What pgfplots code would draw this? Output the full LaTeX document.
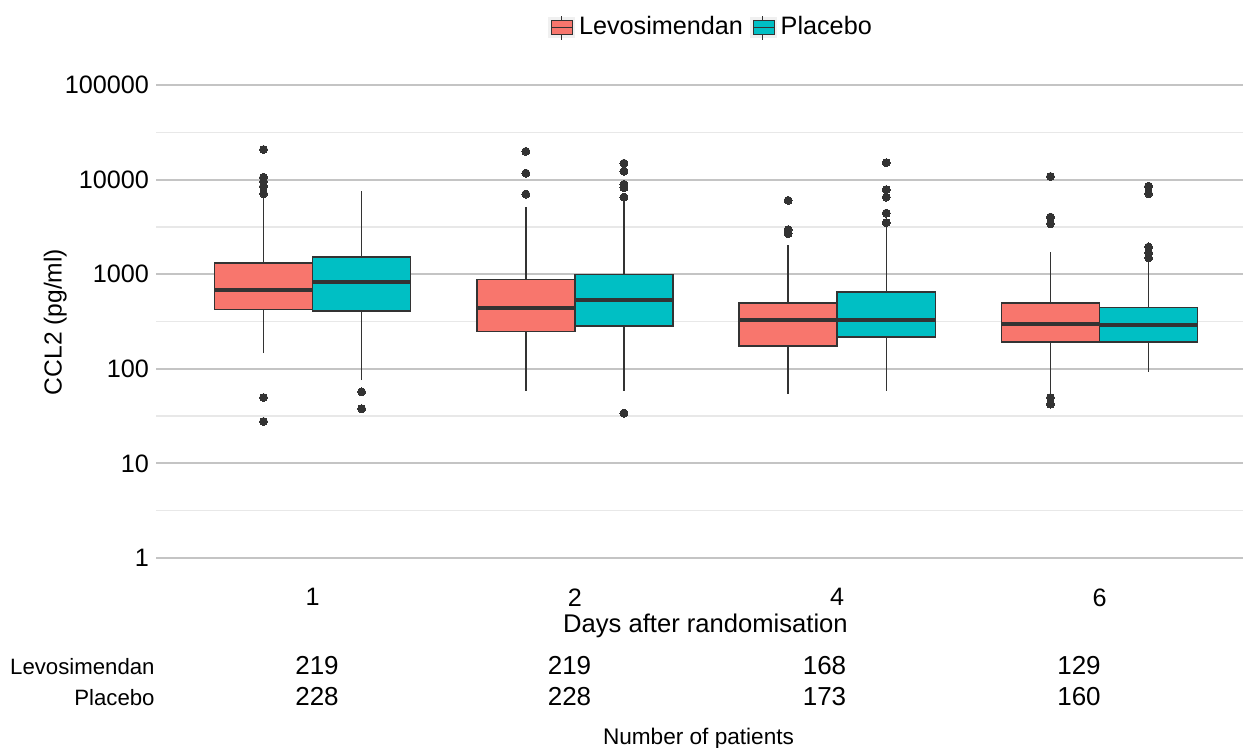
\documentclass[border=0pt]{standalone}
\usepackage{fontspec}
\setmainfont{Liberation Sans}
\usepackage{pgfplots}
\pgfplotsset{compat=1.18}
\definecolor{levo}{HTML}{F8766D}
\definecolor{plac}{HTML}{00BFC4}
\definecolor{dk}{HTML}{333333}
\definecolor{gmaj}{HTML}{C4C4C4}
\definecolor{gmin}{HTML}{E8E8E8}
\newcommand{\fs}[1]{\fontsize{#1}{#1}\selectfont}
% #1 left x, #2 center x, #3 right x, #4 colour, #5 lower whisker, #6 Q1, #7 median, #8 Q3, #9 upper whisker
\newcommand{\bxp}[9]{%
  \addplot[dk, line width=0.75pt, forget plot] coordinates {(#2,#5) (#2,#6)};
  \addplot[dk, line width=0.75pt, forget plot] coordinates {(#2,#8) (#2,#9)};
  \addplot[fill=#4, draw=dk, line width=0.75pt, forget plot] coordinates {(#1,#6) (#3,#6) (#3,#8) (#1,#8)} -- cycle;
  \addplot[dk, line width=2pt, forget plot] coordinates {(#1,#7) (#3,#7)};
}
\pgfplotsset{outl/.style={only marks, mark=*, mark size=2pt, mark options={fill=dk, draw=dk, line width=0pt}, forget plot}}
\begin{document}
\begin{tikzpicture}
\useasboundingbox (0,0) rectangle (621.5pt,374pt);
\begin{axis}[
  at={(78pt,83.2pt)}, anchor=south west,
  scale only axis, width=543.5pt, height=260.1pt,
  xmin=0.403, xmax=4.547,
  ymode=log, ymin=0.5623, ymax=177828,
  ytick={1,10,100,1000,10000,100000},
  yticklabels={1,10,100,1000,10000,100000},
  minor ytick={3.1623,31.623,316.23,3162.3,31623},
  xtick={1,2,3,4}, xticklabels={1,2,4,6},
  ymajorgrids, yminorgrids, xmajorgrids=false,
  major grid style={color=gmaj, line width=1pt},
  minor grid style={color=gmin, line width=0.8pt},
  axis line style={draw=none},
  major tick length=0pt, minor tick length=0pt,
  tick style={draw=none},
  /pgf/number format/assume math mode=true,
  ticklabel style={font=\fs{12.6}},
  xlabel={Days after randomisation},
  xlabel style={at={(axis description cs:0.5055,-0.0975)}, anchor=base, font=\fs{12.8}, inner sep=0pt},
  ylabel={CCL2 (pg/ml)},
  ylabel style={at={(axis description cs:-0.0868,0.499)}, anchor=base, font=\fs{12.3}, inner sep=0pt},
  legend style={at={(axis description cs:0.5115,1.066)}, anchor=center, draw=none, fill=none,
    font=\fs{12.6}, legend columns=2,
    /tikz/every even column/.append style={column sep=1.5pt}},
  legend cell align=left,
]
\addlegendimage{legend image code/.code={
  \fill[black!6] (0pt,-5pt) rectangle (13pt,5pt);
  \draw[dk, line width=0.5pt] (6.2pt,-6.3pt) -- (6.2pt,5.7pt);
  \filldraw[fill=levo, draw=dk, line width=0.5pt] (1.4pt,-3.8pt) rectangle (12pt,3.4pt);
  \draw[dk, line width=0.9pt] (1.4pt,-0.2pt) -- (12pt,-0.2pt);
}}
\addlegendentry{Levosimendan}
\addlegendimage{legend image code/.code={
  \fill[black!6] (0pt,-5pt) rectangle (13pt,5pt);
  \draw[dk, line width=0.5pt] (6.2pt,-6.3pt) -- (6.2pt,5.7pt);
  \filldraw[fill=plac, draw=dk, line width=0.5pt] (1.4pt,-3.8pt) rectangle (12pt,3.4pt);
  \draw[dk, line width=0.9pt] (1.4pt,-0.2pt) -- (12pt,-0.2pt);
}}
\addlegendentry{Placebo}

% Day 1
\bxp{0.626}{0.813}{1.0}{levo}{146}{425}{678}{1316}{6810}
\addplot[outl] coordinates {(0.813,20800) (0.813,10600) (0.813,9550) (0.813,8530) (0.813,7100) (0.813,49.6) (0.813,27.7)};
\bxp{1.0}{1.187}{1.374}{plac}{76}{410}{823}{1521}{7500}
\addplot[outl] coordinates {(1.187,57) (1.187,37.8)};
% Day 2
\bxp{1.626}{1.813}{2.0}{levo}{58.3}{247}{442}{879}{5130}
\addplot[outl] coordinates {(1.813,19900) (1.813,11700) (1.813,7030)};
\bxp{2.0}{2.187}{2.374}{plac}{58.3}{285}{532}{993}{6280}
\addplot[outl] coordinates {(2.187,14900) (2.187,12300) (2.187,8930) (2.187,8200) (2.187,6530) (2.187,34)};
% Day 4
\bxp{2.626}{2.813}{3.0}{levo}{54.3}{174}{327}{494}{2024}
\addplot[outl] coordinates {(2.813,6030) (2.813,2960) (2.813,2690)};
\bxp{3.0}{3.187}{3.374}{plac}{58.3}{218}{327}{650}{3290}
\addplot[outl] coordinates {(3.187,15100) (3.187,7840) (3.187,6530) (3.187,4420) (3.187,3510)};
% Day 6
\bxp{3.626}{3.813}{4.0}{levo}{53}{193}{297}{494}{1718}
\addplot[outl] coordinates {(3.813,10800) (3.813,4020) (3.813,3420) (3.813,49.6) (3.813,42.3)};
\bxp{4.0}{4.187}{4.374}{plac}{93.3}{193}{288}{442}{1348}
\addplot[outl] coordinates {(4.187,8530) (4.187,7100) (4.187,1942) (4.187,1680) (4.187,1486)};
\end{axis}

% Number-of-patients table
\begin{scope}[every node/.style={inner sep=0pt}]
\node[anchor=base east, font=\fs{11.1}] at (77.5pt,36.5pt) {Levosimendan};
\node[anchor=base east, font=\fs{11.1}] at (77.5pt,21pt) {Placebo};
\node[anchor=base, font=\fs{13}] at (158.5pt,36.5pt) {219};
\node[anchor=base, font=\fs{13}] at (284.75pt,36.5pt) {219};
\node[anchor=base, font=\fs{13}] at (412.25pt,36.5pt) {168};
\node[anchor=base, font=\fs{13}] at (539.5pt,36.5pt) {129};
\node[anchor=base, font=\fs{13}] at (158.5pt,21pt) {228};
\node[anchor=base, font=\fs{13}] at (284.75pt,21pt) {228};
\node[anchor=base, font=\fs{13}] at (412.25pt,21pt) {173};
\node[anchor=base, font=\fs{13}] at (539.5pt,21pt) {160};
\node[anchor=base, font=\fs{11.3}] at (349.25pt,1.75pt) {Number of patients};
\end{scope}
\end{tikzpicture}
\end{document}
